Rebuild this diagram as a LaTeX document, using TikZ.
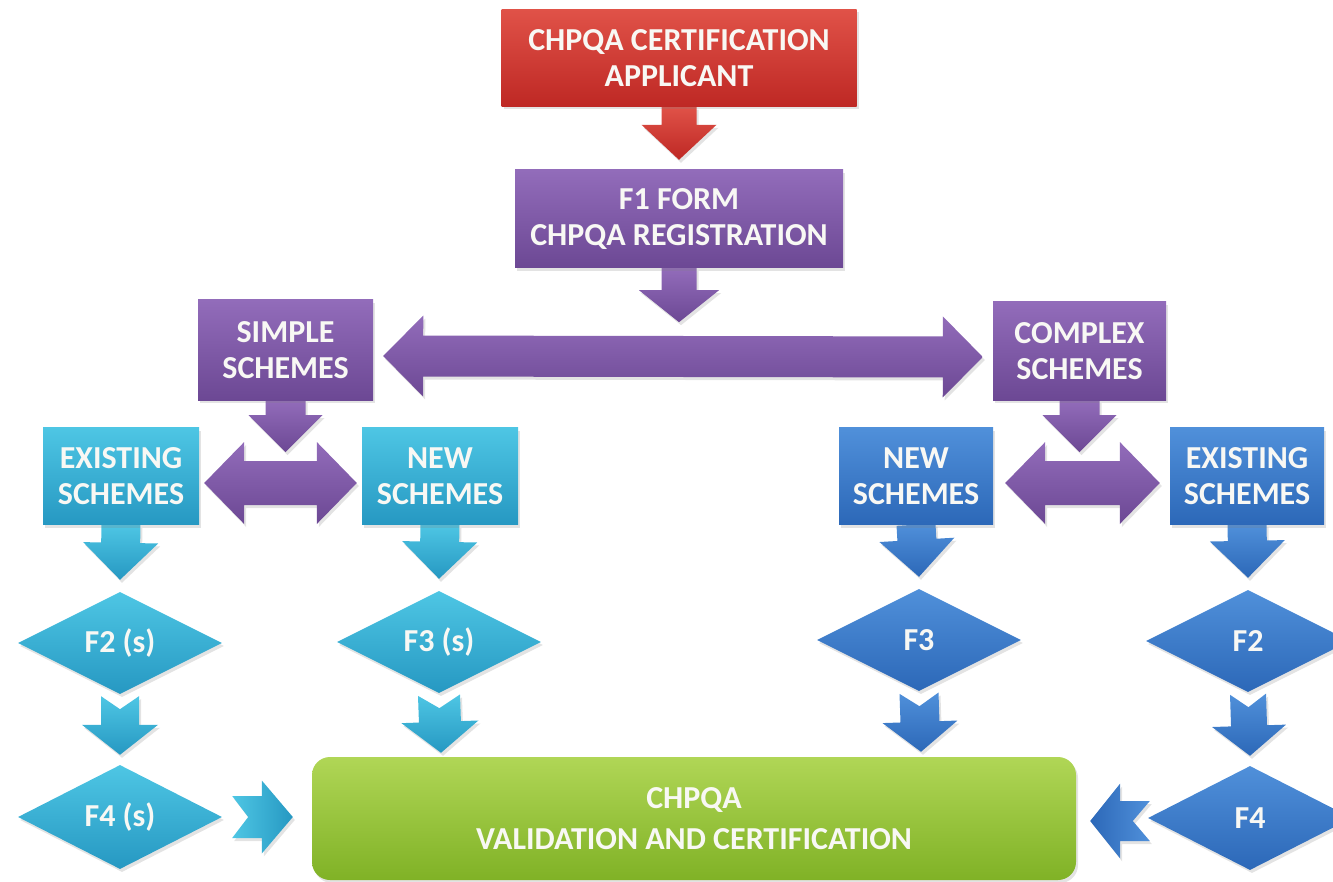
\documentclass[tikz,border=0pt]{standalone}
\usepackage{fontspec}
\setmainfont{Carlito}
\usetikzlibrary{calc,shapes.geometric,shadows}

\definecolor{redT}{RGB}{224,82,72}
\definecolor{redB}{RGB}{190,40,36}
\definecolor{purT}{RGB}{146,108,186}
\definecolor{purB}{RGB}{108,72,148}
\definecolor{cyaT}{RGB}{78,198,228}
\definecolor{cyaB}{RGB}{38,152,194}
\definecolor{bluT}{RGB}{80,144,218}
\definecolor{bluB}{RGB}{44,104,184}
\definecolor{grnT}{RGB}{176,214,86}
\definecolor{grnB}{RGB}{128,178,38}
\definecolor{txt}{RGB}{248,248,244}

\newcommand{\boxfont}{\bfseries\fontsize{32}{36}\selectfont}

% block arrow: style, from, to, shaft half width, head half width, head length, tail notch
\newcommand{\barrow}[7]{%
  \coordinate (ba) at #2;
  \coordinate (bb) at #3;
  \coordinate (bh) at ($(bb)!#6!(ba)$);
  \path[#1] ($(ba)!#4!90:(bb)$) -- ($(bh)!#4!90:(bb)$) -- ($(bh)!#5!90:(bb)$)
    -- (bb) -- ($(bh)!#5!-90:(bb)$) -- ($(bh)!#4!-90:(bb)$)
    -- ($(ba)!#4!-90:(bb)$) -- ($(ba)!#7!(bb)$) -- cycle;
}
% double block arrow: style, A, B, shaft half width, head half width, head length
\newcommand{\dblarrow}[6]{%
  \coordinate (da) at #2;
  \coordinate (db) at #3;
  \coordinate (dha) at ($(da)!#6!(db)$);
  \coordinate (dhb) at ($(db)!#6!(da)$);
  \path[#1] (da) -- ($(dha)!#5!90:(db)$) -- ($(dha)!#4!90:(db)$)
    -- ($(dhb)!#4!-90:(da)$) -- ($(dhb)!#5!-90:(da)$) -- (db)
    -- ($(dhb)!#5!90:(da)$) -- ($(dhb)!#4!90:(da)$)
    -- ($(dha)!#4!-90:(db)$) -- ($(dha)!#5!-90:(db)$) -- cycle;
}

\pgfdeclarelayer{bg}
\pgfsetlayers{bg,main}

\tikzset{
  shd/.style={drop shadow={shadow xshift=2pt,shadow yshift=-3pt,opacity=0.22}},
  box/.style={rectangle, inner sep=0pt, align=center, text=txt, font=\boxfont, shd},
  dia/.style={diamond, inner sep=0pt, align=center, text=txt, font=\boxfont, shd,
              minimum width=204pt, minimum height=102pt},
  redbox/.style={box, top color=redT, bottom color=redB},
  purbox/.style={box, top color=purT, bottom color=purB},
  cyabox/.style={box, top color=cyaT, bottom color=cyaB},
  blubox/.style={box, top color=bluT, bottom color=bluB},
  cyadia/.style={dia, top color=cyaT, bottom color=cyaB},
  bludia/.style={dia, top color=bluT, bottom color=bluB},
  grnbox/.style={box, rounded corners=18pt, top color=grnT, bottom color=grnB},
  redar/.style={top color=redT, bottom color=redB, shd},
  purar/.style={top color=purT, bottom color=purB, shd},
  cyaar/.style={top color=cyaT, bottom color=cyaB, shd},
  bluar/.style={top color=bluT, bottom color=bluB, shd},
  cyaarh/.style={left color=cyaT, right color=cyaB, shd},
  bluarh/.style={left color=bluB, right color=bluT, shd},
}

\begin{document}
\begin{tikzpicture}[x=1pt,y=1pt]
\useasboundingbox (0,0) rectangle (1333,-882);

% boxes
\node[redbox, minimum width=355pt, minimum height=97pt] (red) at (679,-58) {CHPQA CERTIFICATION\\APPLICANT};
\node[purbox, minimum width=328pt, minimum height=98pt] (f1) at (679,-219) {F1 FORM\\CHPQA REGISTRATION};
\node[purbox, minimum width=175pt, minimum height=100pt] (simple) at (285.5,-350) {SIMPLE\\SCHEMES};
\node[purbox, minimum width=173pt, minimum height=98pt] (complex) at (1079.5,-351) {COMPLEX\\SCHEMES};
\node[cyabox, minimum width=156pt, minimum height=97pt] (existL) at (121,-476) {EXISTING\\SCHEMES};
\node[cyabox, minimum width=156pt, minimum height=97pt] (newL) at (440,-476) {NEW\\SCHEMES};
\node[blubox, minimum width=154pt, minimum height=97pt] (newR) at (916,-476) {NEW\\SCHEMES};
\node[blubox, minimum width=154pt, minimum height=97pt] (existR) at (1247,-476) {EXISTING\\SCHEMES};

% diamonds
\node[cyadia] (F2s) at (120,-643) {F2 (s)};
\node[cyadia] (F3s) at (439,-642) {F3 (s)};
\node[bludia] (F3) at (919,-640) {F3};
\node[bludia] (F2) at (1248,-641) {F2};
\node[cyadia, minimum height=104pt] (F4s) at (120,-817) {F4 (s)};
\node[bludia, minimum height=104pt] (F4) at (1250,-818) {F4};

% final box
\node[grnbox, minimum width=764pt, minimum height=123pt] (green) at (694,-818.5)
  {CHPQA\\[5pt]VALIDATION AND CERTIFICATION};

\begin{pgfonlayer}{bg}
  % top
  \barrow{redar}{(red.south)}{([yshift=10pt]f1.north)}{17.5pt}{37.5pt}{35pt}{0pt}
  \coordinate (fj) at ([yshift=-54pt]f1.south);
  \barrow{purar}{(f1.south)}{(fj)}{17.5pt}{40pt}{32pt}{0pt}
  \dblarrow{purar}{([xshift=10pt,yshift=-6pt]simple.east)}{([xshift=-10pt,yshift=-6pt]complex.west)}{20.5pt}{40.5pt}{40pt}
  % simple / complex down
  \coordinate (sj) at ([yshift=-52pt]simple.south);
  \barrow{purar}{(simple.south)}{(sj)}{20pt}{37pt}{37pt}{0pt}
  \coordinate (cj) at ([yshift=-52pt]complex.south);
  \barrow{purar}{(complex.south)}{(cj)}{20pt}{37pt}{37pt}{0pt}
  % small double arrows
  \dblarrow{purar}{([xshift=5pt,yshift=-7pt]existL.east)}{([xshift=-5pt,yshift=-7pt]newL.west)}{22pt}{41pt}{40pt}
  \dblarrow{purar}{([xshift=12pt,yshift=-7pt]newR.east)}{([xshift=-10pt,yshift=-7pt]existR.west)}{22pt}{41pt}{40pt}
  % boxes to diamonds
  \barrow{cyaar}{(existL.south)}{([yshift=12pt]F2s.north)}{19.5pt}{37.5pt}{37pt}{0pt}
  \barrow{cyaar}{(newL.south)}{([yshift=12pt]F3s.north)}{19.5pt}{37.5pt}{37pt}{0pt}
  \barrow{bluar}{(newR.south)}{([yshift=12pt]F3.north)}{19.5pt}{37.5pt}{37pt}{0pt}
  \barrow{bluar}{(existR.south)}{([yshift=12pt]F2.north)}{19.5pt}{37.5pt}{37pt}{0pt}
  % diamonds down
  \barrow{cyaar}{([yshift=-2pt]F2s.south)}{([yshift=10pt]F4s.north)}{19pt}{38pt}{30pt}{13pt}
  \barrow{bluar}{([yshift=-2pt]F2.south)}{([yshift=10pt]F4.north)}{18pt}{37pt}{30pt}{13pt}
  \barrow{cyaar}{([yshift=-2pt]F3s.south)}{($(F3s.south |- green.north)+(2pt,4pt)$)}{21pt}{38.5pt}{31pt}{13pt}
  \barrow{bluar}{([yshift=-2pt]F3.south)}{($(F3.south |- green.north)+(2pt,5pt)$)}{19.5pt}{37.5pt}{30pt}{13pt}
  % side chevrons
  \barrow{cyaarh}{([xshift=10pt]F4s.east)}{($(green.west |- F4s.east)+(-19pt,0)$)}{21pt}{36.5pt}{31pt}{16pt}
  \barrow{bluarh}{([xshift=2pt,yshift=-3pt]F4.west)}{($(green.east |- F4.west)+(14pt,-3pt)$)}{20pt}{37.5pt}{30pt}{17pt}
\end{pgfonlayer}
\end{tikzpicture}
\end{document}
